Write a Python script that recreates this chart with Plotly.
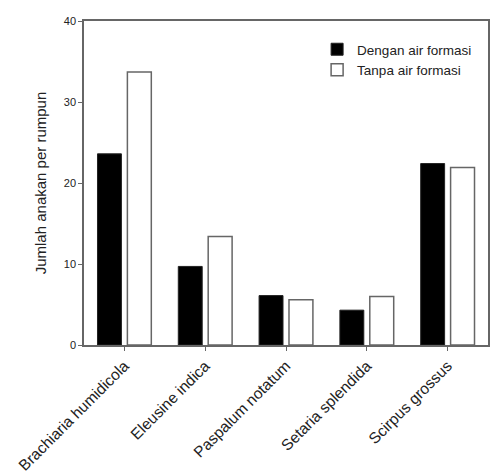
import plotly.graph_objects as go

categories = ["Brachiaria humidicola", "Eleusine indica", "Paspalum notatum",
              "Setaria splendida", "Scirpus grossus"]
dengan = [23.6, 9.7, 6.1, 4.3, 22.4]
tanpa = [33.7, 13.4, 5.6, 6.0, 21.9]
series_names = ["Dengan air formasi", "Tanpa air formasi"]
y_ticks = [0, 10, 20, 30, 40]

fig = go.Figure()
fig.add_trace(go.Bar(x=categories, y=dengan, name=series_names[0],
                     marker=dict(color="black", line=dict(color="#222", width=1))))
fig.add_trace(go.Bar(x=categories, y=tanpa, name=series_names[1],
                     marker=dict(color="white", line=dict(color="#666", width=1.5))))

fig.update_layout(
    width=491, height=475,
    margin=dict(l=84, r=1, t=21, b=129),
    paper_bgcolor="white", plot_bgcolor="white",
    barmode="group", bargap=0.26, bargroupgap=0.2,
    font=dict(family="Liberation Sans, Arial, sans-serif", size=11, color="#222"),
    showlegend=True,
    legend=dict(x=0.577, y=0.96, xanchor="left", yanchor="top",
                bgcolor="rgba(0,0,0,0)", font=dict(size=13.5),
                tracegroupgap=0, itemwidth=30),
    xaxis=dict(range=[-0.5, 4.5], showline=True, linecolor="#666", linewidth=1.5,
               mirror=True, ticks="outside", ticklen=4, tickcolor="#666",
               tickangle=-45, tickfont=dict(size=15.5), showgrid=False),
    yaxis=dict(range=[0, 40], tickvals=y_ticks, showline=True, linecolor="#666",
               linewidth=1.5, mirror=True, ticks="outside", ticklen=4,
               tickcolor="#666", showgrid=False, zeroline=False,
               tickfont=dict(size=11),
               title=dict(text="Jumlah anakan per rumpun", font=dict(size=15), standoff=14)),
)

fig.write_html("out.html", config={"displayModeBar": False},
               post_script="document.body.style.margin='0';")
